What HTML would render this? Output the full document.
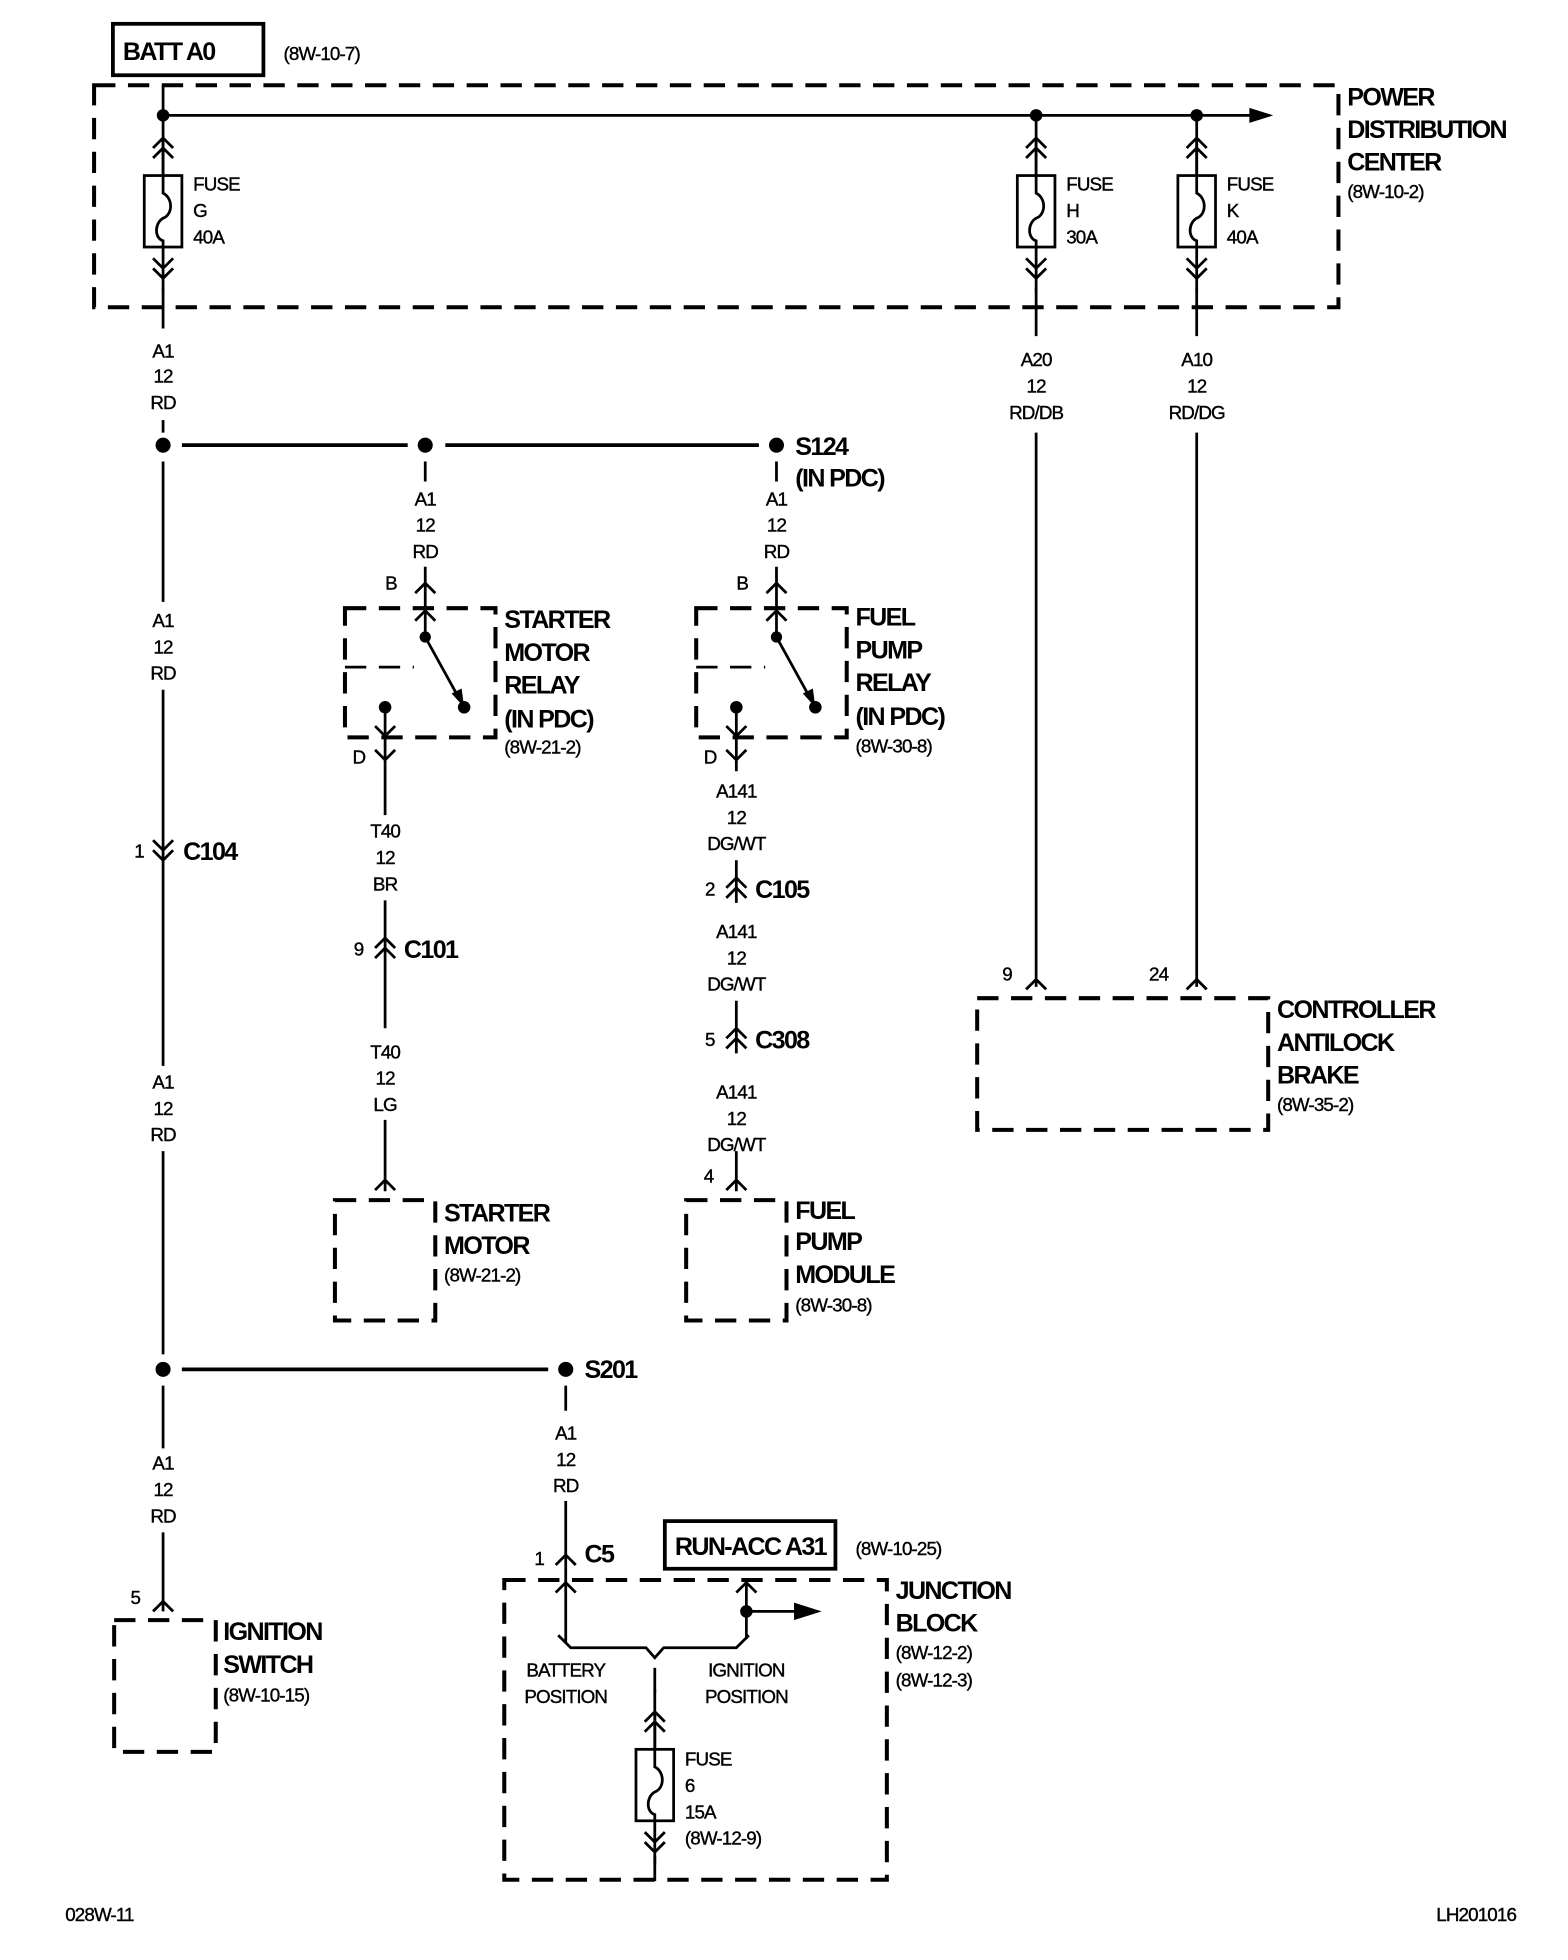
<!DOCTYPE html>
<html><head><meta charset="utf-8"><style>
html,body{margin:0;padding:0;background:#fff}
svg{display:block}
text{font-family:"Liberation Sans",sans-serif;fill:#000}
.b{font-weight:bold;font-size:20px;letter-spacing:-1.3px}
.s{font-size:15px;letter-spacing:-0.7px;stroke:#000;stroke-width:0.3}
.m{font-size:15px;letter-spacing:-0.7px;text-anchor:middle;stroke:#000;stroke-width:0.3}
.d{fill:none;stroke:#000;stroke-width:3.2;stroke-dasharray:17 10}
.w{fill:none;stroke:#000;stroke-width:2.2}
.w3{fill:none;stroke:#000;stroke-width:3}
</style></head><body>
<svg width="1568" height="1960" viewBox="0 0 1250 1563" preserveAspectRatio="none" xmlns="http://www.w3.org/2000/svg">
<defs>
<g id="fuse">
<path class="w" d="M0,0 V48"/>
<path class="w" d="M-8,26 L0,18 L8,26 M-8,34 L0,26 L8,34"/>
<rect x="-15" y="48" width="30" height="57" fill="none" stroke="#000" stroke-width="2.2"/>
<path class="w" d="M0,20 V62 C8,66 8,79 0,82 C-7,86 -7,98 0,100 V140"/>
<path class="w" d="M-8,114 L0,122 L8,114 M-8,122 L0,130 L8,122"/>
</g>
<path id="upv" class="w" d="M-8,8 L0,0 L8,8"/>
<path id="dnv" class="w" d="M-8,-8 L0,0 L8,-8"/>
<path id="dup" class="w" d="M-8,8 L0,0 L8,8 M-8,16 L0,8 L8,16"/>
<path id="ddn" class="w" d="M-8,-8 L0,0 L8,-8 M-8,-16 L0,-8 L8,-16"/>
</defs>

<!-- BATT -->
<rect x="90" y="19" width="120" height="41" fill="none" stroke="#000" stroke-width="3"/>
<text class="b" x="98" y="48">BATT A0</text>
<text class="s" x="226" y="48">(8W-10-7)</text>

<!-- PDC -->
<rect class="d" x="75" y="68" width="992" height="177"/>
<path class="w" d="M130,68 V92 H1000"/>
<path d="M996,86 L1015,92 L996,98 Z"/>
<circle cx="130" cy="92" r="5"/><circle cx="826" cy="92" r="5"/><circle cx="954" cy="92" r="5"/>
<use href="#fuse" x="130" y="92"/>
<use href="#fuse" x="826" y="92"/>
<use href="#fuse" x="954" y="92"/>
<path class="w" d="M130,230 V262 M826,230 V268 M954,230 V268"/>
<text class="s" x="154" y="152">FUSE</text><text class="s" x="154" y="173">G</text><text class="s" x="154" y="194">40A</text>
<text class="s" x="850" y="152">FUSE</text><text class="s" x="850" y="173">H</text><text class="s" x="850" y="194">30A</text>
<text class="s" x="978" y="152">FUSE</text><text class="s" x="978" y="173">K</text><text class="s" x="978" y="194">40A</text>
<text class="b" x="1074" y="84">POWER</text>
<text class="b" x="1074" y="110">DISTRIBUTION</text>
<text class="b" x="1074" y="136">CENTER</text>
<text class="s" x="1074" y="158">(8W-10-2)</text>

<!-- A1 top -->
<text class="m" x="130" y="285">A1</text><text class="m" x="130" y="305">12</text><text class="m" x="130" y="326">RD</text>
<path class="w" d="M130,335 V345"/>
<circle cx="130" cy="355" r="6"/><circle cx="339" cy="355" r="6"/><circle cx="619" cy="355" r="6"/>
<path class="w3" d="M145,355 H325 M355,355 H605"/>
<text class="b" x="634" y="363">S124</text>
<text class="b" x="634" y="388">(IN PDC)</text>

<!-- A20 / A10 -->
<text class="m" x="826" y="292">A20</text><text class="m" x="826" y="313">12</text><text class="m" x="826" y="334">RD/DB</text>
<text class="m" x="954" y="292">A10</text><text class="m" x="954" y="313">12</text><text class="m" x="954" y="334">RD/DG</text>
<path class="w" d="M826,345 V787 M954,345 V787"/>
<use href="#upv" x="826" y="781"/><use href="#upv" x="954" y="781"/>
<text class="s" x="799" y="782">9</text><text class="s" x="916" y="782">24</text>
<rect class="d" x="779" y="796" width="232" height="105"/>
<text class="b" x="1018" y="812">CONTROLLER</text>
<text class="b" x="1018" y="838">ANTILOCK</text>
<text class="b" x="1018" y="864">BRAKE</text>
<text class="s" x="1018" y="886">(8W-35-2)</text>

<!-- Starter relay -->
<path class="w" d="M339,368 V384 M339,452 V485"/>
<text class="m" x="339" y="403">A1</text><text class="m" x="339" y="424">12</text><text class="m" x="339" y="445">RD</text>
<use href="#upv" x="339" y="465"/>
<text class="s" x="307" y="470">B</text>
<rect class="d" x="275" y="485" width="120" height="103"/>
<path class="w" d="M275,532 H330" stroke-dasharray="17 10"/>
<path class="w" d="M339,485 V508 L366,557"/>
<use href="#upv" x="339" y="487"/>
<circle cx="339" cy="508" r="4.5"/><circle cx="370" cy="564" r="5"/>
<path d="M360,553 L370,564 L368,549 Z"/>
<circle cx="307" cy="564" r="5"/>
<path class="w" d="M307,564 V610"/>
<use href="#dnv" x="307" y="587"/>
<use href="#dnv" x="307" y="606"/>
<text class="s" x="281" y="609">D</text>
<text class="b" x="402" y="501">STARTER</text>
<text class="b" x="402" y="527">MOTOR</text>
<text class="b" x="402" y="553">RELAY</text>
<text class="b" x="402" y="580">(IN PDC)</text>
<text class="s" x="402" y="601">(8W-21-2)</text>

<!-- Fuel relay -->
<path class="w" d="M619,368 V384 M619,452 V485"/>
<text class="m" x="619" y="403">A1</text><text class="m" x="619" y="424">12</text><text class="m" x="619" y="445">RD</text>
<use href="#upv" x="619" y="465"/>
<text class="s" x="587" y="470">B</text>
<rect class="d" x="555" y="485" width="120" height="103"/>
<path class="w" d="M555,532 H610" stroke-dasharray="17 10"/>
<path class="w" d="M619,485 V508 L646,557"/>
<use href="#upv" x="619" y="487"/>
<circle cx="619" cy="508" r="4.5"/><circle cx="650" cy="564" r="5"/>
<path d="M640,553 L650,564 L648,549 Z"/>
<circle cx="587" cy="564" r="5"/>
<path class="w" d="M587,564 V615"/>
<use href="#dnv" x="587" y="587"/>
<use href="#dnv" x="587" y="606"/>
<text class="s" x="561" y="609">D</text>
<text class="b" x="682" y="499">FUEL</text>
<text class="b" x="682" y="525">PUMP</text>
<text class="b" x="682" y="551">RELAY</text>
<text class="b" x="682" y="578">(IN PDC)</text>
<text class="s" x="682" y="600">(8W-30-8)</text>

<!-- Starter motor wire -->
<path class="w" d="M307,610 V650 M307,718 V820 M307,893 V950"/>
<text class="m" x="307" y="668">T40</text><text class="m" x="307" y="689">12</text><text class="m" x="307" y="710">BR</text>
<use href="#dup" x="307" y="748"/>
<text class="s" x="282" y="762">9</text><text class="b" x="322" y="764">C101</text>
<text class="m" x="307" y="844">T40</text><text class="m" x="307" y="865">12</text><text class="m" x="307" y="886">LG</text>
<use href="#upv" x="307" y="941"/>
<rect class="d" x="267" y="957" width="80" height="96"/>
<text class="b" x="354" y="974">STARTER</text>
<text class="b" x="354" y="1000">MOTOR</text>
<text class="s" x="354" y="1022">(8W-21-2)</text>

<!-- Fuel pump wire -->
<path class="w" d="M587,686 V720 M587,798 V840 M587,918 V950"/>
<text class="m" x="587" y="636">A141</text><text class="m" x="587" y="657">12</text><text class="m" x="587" y="678">DG/WT</text>
<use href="#dup" x="587" y="700"/>
<text class="s" x="562" y="714">2</text><text class="b" x="602" y="716">C105</text>
<text class="m" x="587" y="748">A141</text><text class="m" x="587" y="769">12</text><text class="m" x="587" y="790">DG/WT</text>
<use href="#dup" x="587" y="820"/>
<text class="s" x="562" y="834">5</text><text class="b" x="602" y="836">C308</text>
<text class="m" x="587" y="876">A141</text><text class="m" x="587" y="897">12</text><text class="m" x="587" y="918">DG/WT</text>
<use href="#upv" x="587" y="941"/>
<text class="s" x="561" y="943">4</text>
<rect class="d" x="547" y="957" width="80" height="96"/>
<text class="b" x="634" y="972">FUEL</text>
<text class="b" x="634" y="997">PUMP</text>
<text class="b" x="634" y="1023">MODULE</text>
<text class="s" x="634" y="1046">(8W-30-8)</text>

<!-- Main left wire -->
<path class="w" d="M130,368 V480 M130,550 V850 M130,918 V1080 M130,1105 V1155 M130,1222 V1285"/>
<text class="m" x="130" y="500">A1</text><text class="m" x="130" y="521">12</text><text class="m" x="130" y="542">RD</text>
<use href="#ddn" x="130" y="686"/>
<text class="s" x="107" y="684">1</text><text class="b" x="146" y="686">C104</text>
<text class="m" x="130" y="868">A1</text><text class="m" x="130" y="889">12</text><text class="m" x="130" y="910">RD</text>
<circle cx="130" cy="1092" r="6"/><circle cx="451" cy="1092" r="6"/>
<path class="w3" d="M145,1092 H437"/>
<text class="b" x="466" y="1099">S201</text>
<text class="m" x="130" y="1172">A1</text><text class="m" x="130" y="1193">12</text><text class="m" x="130" y="1214">RD</text>
<use href="#upv" x="130" y="1277"/>
<text class="s" x="104" y="1279">5</text>
<rect class="d" x="91" y="1292" width="81" height="105"/>
<text class="b" x="178" y="1308">IGNITION</text>
<text class="b" x="178" y="1334">SWITCH</text>
<text class="s" x="178" y="1357">(8W-10-15)</text>

<!-- S201 to C5 -->
<path class="w" d="M451,1105 V1125 M451,1197 V1310"/>
<text class="m" x="451" y="1148">A1</text><text class="m" x="451" y="1169">12</text><text class="m" x="451" y="1190">RD</text>
<use href="#upv" x="451" y="1240"/>
<text class="s" x="426" y="1248">1</text><text class="b" x="466" y="1246">C5</text>

<rect x="530" y="1213" width="136" height="38" fill="none" stroke="#000" stroke-width="3"/>
<text class="b" x="538" y="1240">RUN-ACC A31</text>
<text class="s" x="682" y="1240">(8W-10-25)</text>

<!-- Junction block -->
<rect class="d" x="402" y="1260" width="305" height="239"/>
<use href="#upv" x="451" y="1262"/>
<path class="w" d="M595,1262 V1307"/>
<use href="#upv" x="595" y="1262"/>
<circle cx="595" cy="1285" r="5"/>
<path class="w" d="M595,1285 H635"/>
<path d="M633,1278 L655,1285 L633,1292 Z"/>
<path class="w" d="M445,1304 L455,1314 H515 L522,1322 L529,1314 H587 L597,1304"/>
<text class="m" x="451" y="1337">BATTERY</text><text class="m" x="451" y="1358">POSITION</text>
<text class="m" x="595" y="1337">IGNITION</text><text class="m" x="595" y="1358">POSITION</text>
<path class="w" d="M522,1330 V1350"/>
<use href="#fuse" x="522" y="1347"/>
<path class="w" d="M522,1480 V1500"/>
<text class="s" x="546" y="1408">FUSE</text><text class="s" x="546" y="1429">6</text>
<text class="s" x="546" y="1450">15A</text><text class="s" x="546" y="1471">(8W-12-9)</text>
<text class="b" x="714" y="1275">JUNCTION</text>
<text class="b" x="714" y="1301">BLOCK</text>
<text class="s" x="714" y="1323">(8W-12-2)</text>
<text class="s" x="714" y="1345">(8W-12-3)</text>

<text class="s" x="52" y="1532">028W-11</text>
<text class="s" x="1145" y="1532">LH201016</text>
</svg>
</body></html>
